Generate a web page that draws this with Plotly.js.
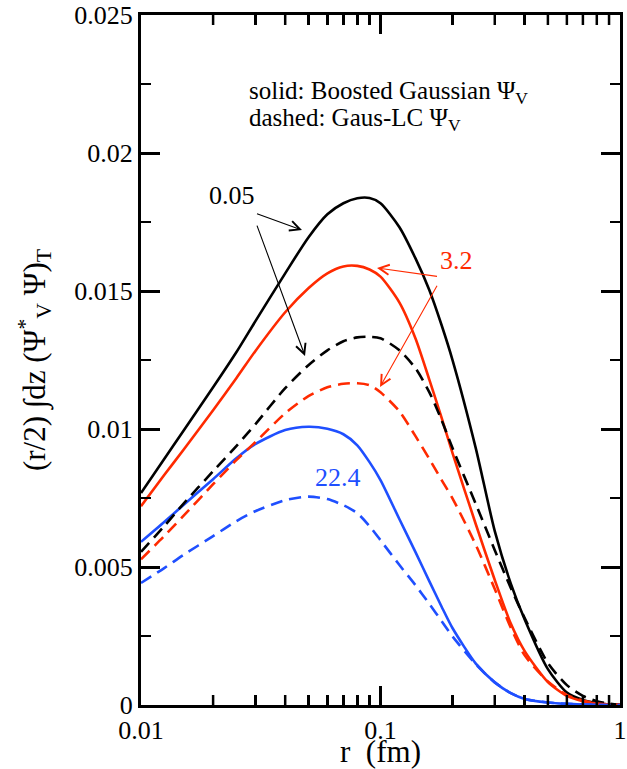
<!DOCTYPE html>
<html>
<head>
<meta charset="utf-8">
<script src="https://cdn.plot.ly/plotly-3.0.1.min.js"></script>
<style>html,body{margin:0;padding:0;background:#fff;}</style>
</head>
<body>
<div id="chart" style="width:627px;height:769px;"></div>
<script>
// r (fm)
const r = [0.01,0.0125,0.015,0.02,0.025,0.03,0.04,0.05,0.06,0.07,0.08,0.09,0.1,0.12,0.14,0.16,0.18,0.2,0.25,0.3,0.35,0.4,0.5,0.6,0.7,0.8,0.9,1.0];
// 0.05 (black)
const blackSolid  = [0.00768,0.00891,0.00992,0.01151,0.01278,0.01390,0.01564,0.01694,0.01778,0.01818,0.01836,0.01837,0.01818,0.01731,0.01618,0.01503,0.01376,0.01249,0.00930,0.00630,0.00440,0.00310,0.00130,0.00045,0.00018,0.00007,0.00002,0.00000];
const blackDashed = [0.00555,0.00648,0.00728,0.00847,0.00938,0.01017,0.01148,0.01231,0.01285,0.01318,0.01332,0.01334,0.01329,0.01285,0.01220,0.01133,0.01032,0.00930,0.00728,0.00561,0.00424,0.00315,0.00152,0.00072,0.00033,0.00014,0.00005,0.00001];
// 3.2 (red)
const redSolid    = [0.00720,0.00833,0.00923,0.01068,0.01184,0.01282,0.01423,0.01510,0.01564,0.01589,0.01591,0.01578,0.01552,0.01458,0.01328,0.01178,0.01040,0.00912,0.00655,0.00453,0.00295,0.00195,0.00083,0.00033,0.00014,0.00005,0.00002,0.00000];
const redDashed   = [0.00528,0.00612,0.00684,0.00800,0.00887,0.00952,0.01057,0.01119,0.01151,0.01164,0.01166,0.01159,0.01133,0.01064,0.00974,0.00891,0.00815,0.00748,0.00580,0.00420,0.00280,0.00180,0.00085,0.00036,0.00016,0.00006,0.00002,0.00001];
// 22.4 (blue)
const blueSolid   = [0.00591,0.00663,0.00724,0.00818,0.00894,0.00945,0.00996,0.01008,0.01001,0.00981,0.00941,0.00880,0.00815,0.00673,0.00554,0.00448,0.00356,0.00278,0.00150,0.00082,0.00043,0.00022,0.00009,0.00004,0.00002,0.00001,0.00000,0.00000];
const blueDashed  = [0.00442,0.00496,0.00543,0.00612,0.00666,0.00702,0.00742,0.00755,0.00746,0.00724,0.00695,0.00648,0.00597,0.00507,0.00434,0.00366,0.00304,0.00248,0.00148,0.00082,0.00043,0.00022,0.00009,0.00004,0.00002,0.00001,0.00000,0.00000];

const xMajorVals = [0.1];
const xMinorVals = [0.02,0.03,0.04,0.05,0.06,0.07,0.08,0.09,0.2,0.3,0.4,0.5,0.6,0.7,0.8,0.9];
const yTickVals = [0, 0.005, 0.01, 0.015, 0.02, 0.025];
const yTickText = ['0', '0.005', '0.01', '0.015', '0.02', '0.025'];

const BLACK = '#000000', RED = '#ff2a00', BLUE = '#1f4fff';
const DASH = '12px,7px';
const FONT = '"Liberation Serif", "Times New Roman", Times, serif';
const PLOT_H = 690; // plot-area height in px (769 - 15 - 64)

function tr(y, color, dashed) {
  return {
    x: r, y: y, type: 'scatter', mode: 'lines',
    line: {color: color, width: 2.6, dash: dashed ? DASH : 'solid', shape: 'spline', smoothing: 0.7}
  };
}

// x-axis tick marks (bottom + mirrored top), placed through the log x scale,
// on a hidden pixel-unit overlay y axis
function tickTrace(vals, len, width) {
  const xs = [], ys = [];
  vals.forEach(function (v) {
    xs.push(v, v, null, v, v, null);
    ys.push(0, len, null, PLOT_H, PLOT_H - len, null);
  });
  return {x: xs, y: ys, xaxis: 'x', yaxis: 'y2', type: 'scatter', mode: 'lines',
    line: {color: '#000', width: width}, connectgaps: false, cliponaxis: false};
}

const data = [
  tr(blackSolid, BLACK, false), tr(redSolid, RED, false), tr(blueSolid, BLUE, false),
  tr(blackDashed, BLACK, true), tr(redDashed, RED, true), tr(blueDashed, BLUE, true),
  tickTrace(xMajorVals, 19, 3), tickTrace(xMinorVals, 10, 2.5),
  {x: [r[0]], y: [null], xaxis: 'x2', yaxis: 'y', type: 'scatter', mode: 'lines'}
];

function arrow(x, y, ax, ay, color) {
  return {xref: 'paper', yref: 'paper', x: x, y: y, ax: ax, ay: ay, text: ' ',
    showarrow: true, arrowhead: 5, arrowsize: 1.8, arrowwidth: 1.1, arrowcolor: color, standoff: 0, startstandoff: 0};
}
function label(x, y, text, color, size, anchor) {
  return {xref: 'paper', yref: 'paper', x: x, y: y, text: text, showarrow: false,
    xanchor: anchor || 'center', yanchor: 'middle', font: {family: FONT, size: size, color: color}};
}

const layout = {
  width: 627, height: 769,
  margin: {l: 141, r: 7, t: 15, b: 64},
  showlegend: false,
  font: {family: FONT, size: 26, color: '#000'},
  xaxis: {
    type: 'log', range: [-2, 0], dtick: 1,
    ticks: 'inside', ticklen: 19, tickwidth: 3, tickcolor: '#000',
    showline: true, linewidth: 3, linecolor: '#000', mirror: 'ticks',
    showgrid: false, zeroline: false,
    title: {text: 'r  (fm)', standoff: 4}
  },
  xaxis2: {
    type: 'log', range: [-2, 0], overlaying: 'x', anchor: 'y', side: 'bottom',
    tickmode: 'array', tickvals: xMinorVals,
    ticks: 'inside', ticklen: 10, tickwidth: 2.5, tickcolor: '#000',
    showticklabels: false, showline: false, mirror: 'ticks',
    showgrid: false, zeroline: false
  },
  yaxis: {
    range: [0, 0.025],
    tickmode: 'array', tickvals: yTickVals, ticktext: yTickText,
    ticks: 'inside', ticklen: 19, tickwidth: 3, tickcolor: '#000',
    showline: true, linewidth: 3, linecolor: '#000', mirror: 'ticks',
    showgrid: false, zeroline: false,
    minor: {tickmode: 'linear', tick0: 0, dtick: 0.0025, ticks: 'inside', ticklen: 10, tickwidth: 2.5, tickcolor: '#000', showgrid: false},
    title: {text: '(r/2) ∫dz (Ψ<sup>*</sup><sub>V</sub> Ψ)<sub>T</sub>', standoff: 20}
  },
  yaxis2: {
    overlaying: 'y', anchor: 'x', range: [0, PLOT_H], visible: false,
    showgrid: false, zeroline: false, showticklabels: false, ticks: ''
  },
  annotations: [
    label(0.2213, 0.887, 'solid: Boosted Gaussian Ψ<sub>V</sub>', '#000', 25, 'left'),
    label(0.2213, 0.848, 'dashed: Gaus-LC Ψ<sub>V</sub>', '#000', 25, 'left'),
    label(0.1910, 0.7377, '0.05', BLACK, 26),
    label(0.6597, 0.6435, '3.2', RED, 26),
    label(0.4123, 0.3290, '22.4', BLUE, 26),
    arrow(0.3361, 0.6884, -50, -18, BLACK),
    arrow(0.3424, 0.5058, -53, -144, BLACK),
    arrow(0.4927, 0.6333, 65, 9, RED),
    arrow(0.4990, 0.4609, 62, -110, RED)
  ]
};

Plotly.newPlot('chart', data, layout, {staticPlot: true});
</script>
</body>
</html>
